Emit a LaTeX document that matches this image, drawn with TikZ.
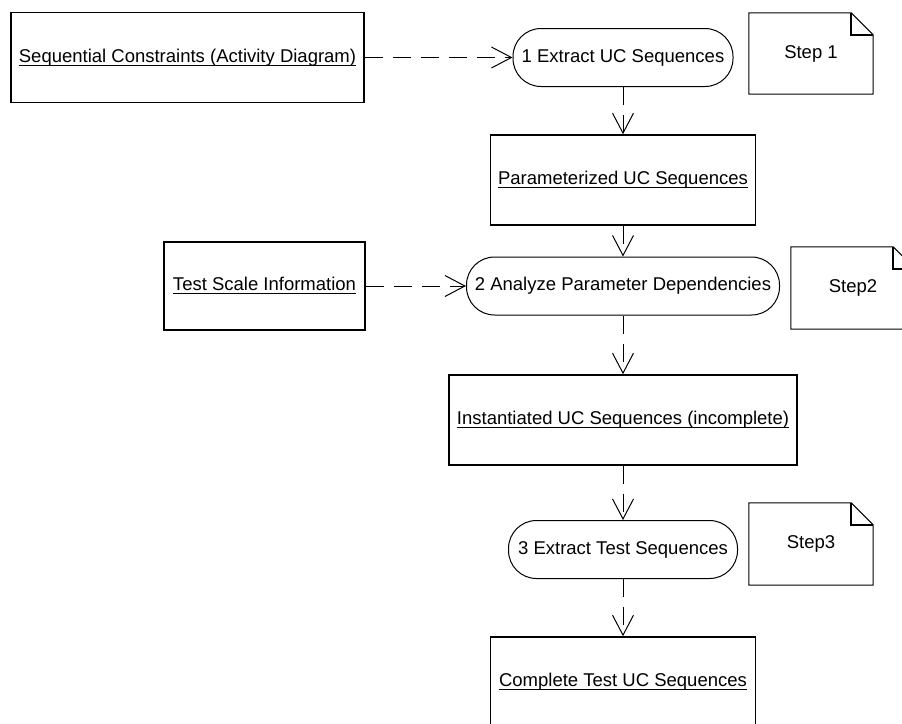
\documentclass[tikz,border=0pt]{standalone}
\usepackage{fontspec}
\setmainfont{Liberation Sans}
\usetikzlibrary{arrows.meta}

\newsavebox{\ulbox}
\newcommand{\ultxt}[1]{\sbox\ulbox{#1}\rlap{\rule[-3.5pt]{\wd\ulbox}{1pt}}\usebox\ulbox}

\begin{document}
\begin{tikzpicture}[x=1pt, y=-1pt,
        artefact/.style={rectangle, draw=black, line width=1.6pt, fill=white,
            minimum height=90pt, inner sep=0pt,
            font=\fontsize{18.5}{22}\selectfont, align=center},
        activity/.style={rectangle, draw=black, line width=1pt, fill=white,
            rounded corners=28pt, minimum height=58pt, inner sep=0pt,
            font=\fontsize{18.5}{22}\selectfont, align=center},
        notebox/.style={rectangle, draw=none, minimum width=124pt,
            minimum height=82pt, inner sep=0pt,
            font=\fontsize{18.5}{22}\selectfont},
        flow/.style={-{Straight Barb[length=20pt, width=21pt]}, line width=1pt,
            dash pattern=on 18pt off 10pt}
      ]
      \clip (0,0) rectangle (902,723);

      % Inputs on the left — absolute coords
      \node[artefact, minimum width=353pt] at (187.5, 57.5) (seqc)  {\ultxt{Sequential Constraints (Activity Diagram)}};
      \node[artefact, minimum width=201pt, minimum height=88pt] at (264.5, 286) (scale) {\ultxt{Test Scale Information}};

      % Main column — x=623
      \node[activity, minimum width=220pt] at (623, 57.5)  (act1)  {1 Extract UC Sequences};
      \node[artefact, minimum width=265pt] at (623, 180)   (param) {\ultxt{Parameterized UC Sequences}};
      \node[activity, minimum width=313pt] at (623, 286)   (act2)  {2 Analyze Parameter Dependencies};
      \node[artefact, minimum width=348pt] at (623, 420)   (inst)  {\ultxt{Instantiated UC Sequences (incomplete)}};
      \node[activity, minimum width=229pt] at (623, 549.5) (act3)  {3 Extract Test Sequences};
      \node[artefact, minimum width=265pt] at (623, 682)   (compl) {\ultxt{Complete Test UC Sequences}};

      % Notes
      \node[notebox, minimum height=81pt] at (811, 53.5) (step1) {Step 1};
      \node[notebox] at (853, 288) (step2) {Step2};
      \node[notebox] at (811, 544) (step3) {Step3};
      \foreach \n in {step1, step2, step3} {
        \draw[line width=1pt] (\n.south west) -- (\n.north west)
          -- ([xshift=-22pt]\n.north east) -- ([yshift=-22pt]\n.north east)
          -- (\n.south east) -- cycle;
        \draw[line width=1.6pt] ([xshift=-22pt]\n.north east) |- ([yshift=-22pt]\n.north east);
      }

      % Input arrows
      \draw[flow] (seqc.east)  -- (act1.west);
      \draw[flow] (scale.east) -- (act2.west);

      % Column arrows
      \draw[flow] (act1.south)  -- (param.north);
      \draw[flow] (param.south) -- (act2.north);
      \draw[flow] (act2.south)  -- (inst.north);
      \draw[flow] (inst.south)  -- (act3.north);
      \draw[flow] (act3.south)  -- (compl.north);
    \end{tikzpicture}
\end{document}
